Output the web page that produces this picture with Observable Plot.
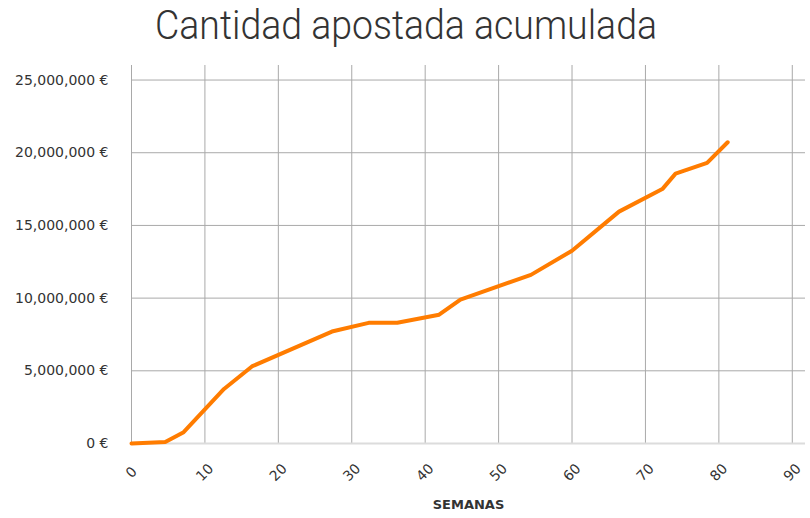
<!DOCTYPE html>
<html>
<head>
<meta charset="utf-8">
<script src="https://cdn.jsdelivr.net/npm/d3@7"></script>
<script src="https://cdn.jsdelivr.net/npm/@observablehq/plot@0.6"></script>
<style>
  html, body { margin: 0; padding: 0; background: #fff; }
  #wrap { width: 810px; height: 518px; position: relative; overflow: hidden; }
  #title { height: 60px; position: relative; }
  #title span { position: absolute; left: 405px; top: 2px; white-space: nowrap;
    font-family: Roboto, sans-serif; font-weight: 300; font-size: 40px; color: #333;
    transform-origin: 0 0; }
</style>
</head>
<body>
<div id="wrap">
  <div id="title"><span id="t">Cantidad apostada acumulada</span></div>
  <div id="chart"></div>
</div>
<script>
const weeks  = [0, 4.6, 7.1, 12.6, 16.4, 27.3, 32.3, 36.2, 41.9, 44.8, 54.4, 60.0, 66.4, 72.3, 74.1, 78.4, 81.2];
const amount = [0, 100000, 780000, 3750000, 5300000, 7700000, 8300000, 8300000, 8860000, 9900000, 11600000, 13260000, 15950000, 17500000, 18560000, 19300000, 20720000];
const xTicks = [0, 10, 20, 30, 40, 50, 60, 70, 80, 90];
const yTicks = [0, 5000000, 10000000, 15000000, 20000000, 25000000];
const xLabel = "SEMANAS";

const data = weeks.map((w, i) => ({week: w, value: amount[i]}));
const fmt = d3.format(",");

const chart = Plot.plot({
  width: 810,
  height: 458,
  marginLeft: 131,
  marginRight: 5,
  marginTop: 5,
  marginBottom: 75,
  style: {fontFamily: "'DejaVu Sans', sans-serif", fontSize: "14px", color: "#333", background: "#fff"},
  x: {domain: [0, 91.8]},
  y: {domain: [0, 26000000]},
  marks: [
    Plot.gridX(xTicks, {stroke: "#a9a9a9", strokeOpacity: 1}),
    Plot.gridY(yTicks, {stroke: "#a9a9a9", strokeOpacity: 1}),
    Plot.ruleY([0], {stroke: "#dcdcdc", strokeWidth: 2}),
    Plot.axisY(yTicks, {tickSize: 0, tickPadding: 23, fontSize: 14, tickFormat: d => fmt(d) + " €", label: null, fill: "#333"}),
    Plot.axisX(xTicks, {tickSize: 0, tickRotate: -45, textAnchor: "middle", tickPadding: 29, fontSize: 14, label: null, fill: "#333"}),
    Plot.text([xLabel], {frameAnchor: "bottom", dy: 65, fontWeight: "bold", fontSize: 13, letterSpacing: 2, fill: "#333"}),
    Plot.line(data, {x: "week", y: "value", stroke: "#ff7c00", strokeWidth: 4, strokeLinejoin: "miter"})
  ]
});
document.getElementById("chart").appendChild(chart);

const t = document.getElementById("t");
const w = t.getBoundingClientRect().width;
const s = 502 / w;
t.style.transform = `scaleX(${s})`;
t.style.left = (406 - 251) + "px";
</script>
</body>
</html>
